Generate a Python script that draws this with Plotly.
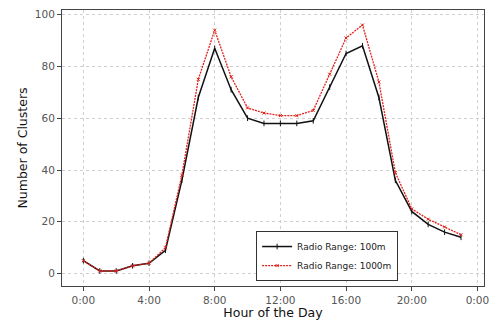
import plotly.graph_objects as go

hours = list(range(24))
range_100m = [5, 1, 1, 3, 4, 9, 36, 68, 87, 71, 60, 58, 58, 58, 59, 72, 85, 88, 68, 36, 24, 19, 16, 14]
range_1000m = [5, 1, 1, 3, 4, 10, 38, 75, 94, 76, 64, 62, 61, 61, 63, 77, 91, 96, 74, 39, 25, 21, 18, 15]
x_tickvals = [0, 4, 8, 12, 16, 20, 24]
x_ticktext = ["0:00", "4:00", "8:00", "12:00", "16:00", "20:00", "0:00"]
y_tickvals = [0, 20, 40, 60, 80, 100]

font = "DejaVu Sans, Verdana, sans-serif"

fig = go.Figure()
fig.add_trace(go.Scatter(
    x=hours, y=range_100m, mode="lines+markers", name="Radio Range: 100m",
    line=dict(color="#111111", width=1.5),
    marker=dict(symbol="line-ns", size=4, line=dict(color="#111111", width=1)),
))
fig.add_trace(go.Scatter(
    x=hours, y=range_1000m, mode="lines+markers", name="Radio Range: 1000m",
    line=dict(color="#e0201b", width=1.3, dash="2px,1px"),
    marker=dict(symbol="x-thin", size=3, line=dict(color="#e0201b", width=1)),
))

fig.update_layout(
    width=493, height=320,
    margin=dict(l=62, r=9, t=10, b=34),
    paper_bgcolor="white", plot_bgcolor="white",
    font=dict(family=font, size=10.5, color="#555555"),
    showlegend=True,
    legend=dict(
        x=0.46, y=0.018, xanchor="left", yanchor="bottom",
        bgcolor="white", bordercolor="#333333", borderwidth=1,
        font=dict(family=font, size=9, color="#222222"),
        tracegroupgap=0, itemwidth=30,
    ),
)
fig.update_xaxes(
    range=[-1.3, 24.4], tickvals=x_tickvals, ticktext=x_ticktext, automargin=False,
    showgrid=True, gridcolor="#cfcfcf", griddash="3px,3px", gridwidth=1,
    showline=True, linecolor="#444444", linewidth=1, mirror=True,
    ticks="outside", ticklen=4, tickcolor="#444444", zeroline=False,
    title=dict(text="Hour of the Day", font=dict(family=font, size=12.5, color="#111111")),
)
fig.update_yaxes(
    range=[-4.8, 101.8], tickvals=y_tickvals, automargin=False,
    showgrid=True, gridcolor="#cfcfcf", griddash="3px,3px", gridwidth=1,
    showline=True, linecolor="#444444", linewidth=1, mirror=True,
    ticks="outside", ticklen=4, tickcolor="#444444", zeroline=False,
    title=dict(text="Number of Clusters", font=dict(family=font, size=12.5, color="#111111"), standoff=4),
)

fig.write_html("out.html")
